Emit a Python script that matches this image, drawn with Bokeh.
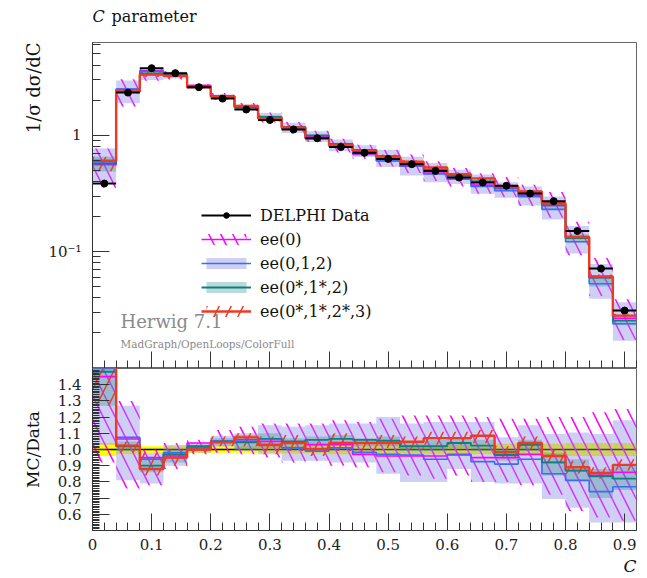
import numpy as np
from bokeh.plotting import figure
from bokeh.layouts import column
from bokeh.models import (Range1d, FixedTicker, Label, Legend, LegendItem,
                          ColumnDataSource, Title)
from bokeh.embed import file_html
from bokeh.resources import INLINE

# ---------------- data ----------------
BIN_EDGES = [0.00, 0.04, 0.08, 0.12, 0.16, 0.20, 0.24, 0.28, 0.32, 0.36, 0.40, 0.44,
             0.48, 0.52, 0.56, 0.60, 0.64, 0.68, 0.72, 0.76, 0.80, 0.84, 0.88, 0.92]

DELPHI = [0.384, 2.32, 3.76, 3.41, 2.58, 2.06, 1.66, 1.35, 1.12, 0.94, 0.79, 0.705,
          0.625, 0.563, 0.493, 0.432, 0.392, 0.367, 0.315, 0.271, 0.150, 0.0714, 0.0311]
DELPHI_RELERR = [0.04, 0.03, 0.02, 0.02, 0.02, 0.02, 0.02, 0.02, 0.025, 0.025, 0.03, 0.03,
                 0.03, 0.03, 0.03, 0.03, 0.03, 0.035, 0.035, 0.035, 0.04, 0.04, 0.04]

# MC / Data ratios (central, band low, band high)
EE0_R = [1.45, 1.065, 0.95, 0.96, 1.04, 1.05, 1.06, 1.05, 1.04, 1.03, 1.03, 0.97,
         0.96, 0.96, 0.96, 0.97, 0.95, 0.95, 0.97, 0.92, 0.87, 0.84, 0.86]
EE0_LO = [0.92, 0.76, 0.78, 0.88, 0.97, 0.98, 0.97, 0.95, 0.92, 0.93, 0.90, 0.89,
          0.86, 0.84, 0.82, 0.84, 0.80, 0.80, 0.78, 0.72, 0.62, 0.58, 0.56]
EE0_HI = [2.00, 1.30, 1.00, 1.04, 1.06, 1.12, 1.14, 1.16, 1.16, 1.16, 1.18, 1.17,
          1.19, 1.21, 1.21, 1.21, 1.20, 1.19, 1.19, 1.20, 1.20, 1.23, 1.25]

EE012_R = [1.50, 1.075, 0.94, 0.98, 1.01, 1.05, 1.05, 1.03, 1.01, 0.99, 1.01, 0.983,
           0.97, 0.966, 0.94, 0.966, 0.925, 0.91, 0.94, 0.85, 0.81, 0.74, 0.77]
EE012_LO = [1.03, 0.81, 0.79, 0.90, 0.98, 1.02, 0.99, 0.97, 0.93, 0.93, 0.92, 0.92,
            0.85, 0.80, 0.80, 0.88, 0.80, 0.79, 0.79, 0.695, 0.64, 0.55, 0.55]
EE012_HI = [2.00, 1.27, 0.98, 1.03, 1.04, 1.085, 1.10, 1.15, 1.14, 1.15, 1.16, 1.16,
            1.20, 1.16, 1.17, 1.17, 1.17, 1.075, 1.15, 1.095, 1.105, 1.095, 1.18]

EE012S_R = [1.48, 1.02, 0.90, 0.97, 1.02, 1.05, 1.044, 1.065, 1.05, 1.06, 1.065, 1.06,
            1.054, 1.02, 1.02, 1.04, 1.024, 0.966, 1.028, 0.92, 0.87, 0.835, 0.82]
EE012S_LO = [1.27, 0.99, 0.86, 0.92, 0.99, 1.02, 1.00, 1.01, 1.00, 1.02, 1.03, 1.02,
             1.02, 0.99, 0.99, 1.01, 0.99, 0.93, 0.99, 0.84, 0.80, 0.70, 0.75]
EE012S_HI = [1.70, 1.05, 0.95, 1.00, 1.03, 1.07, 1.09, 1.10, 1.07, 1.08, 1.09, 1.07,
             1.08, 1.05, 1.06, 1.07, 1.06, 1.00, 1.06, 0.98, 0.94, 0.88, 0.90]

EE0123S_R = [1.57, 1.024, 0.88, 0.95, 1.00, 1.044, 1.075, 1.028, 1.04, 1.003, 1.04, 1.04,
             1.04, 1.048, 1.07, 1.07, 1.085, 0.983, 1.04, 0.96, 0.89, 0.855, 0.905]
EE0123S_LO = [1.27, 0.98, 0.84, 0.90, 0.98, 1.02, 1.02, 0.97, 0.99, 0.96, 0.99, 0.98,
              1.01, 1.00, 1.03, 1.03, 1.04, 0.95, 1.00, 0.92, 0.85, 0.82, 0.87]
EE0123S_HI = [1.70, 1.05, 0.98, 1.00, 1.03, 1.08, 1.10, 1.08, 1.09, 1.05, 1.10, 1.06,
              1.09, 1.08, 1.11, 1.11, 1.12, 1.02, 1.08, 1.00, 0.93, 0.89, 0.94]

SERIES_NAMES = ["DELPHI Data", "ee(0)", "ee(0,1,2)", "ee(0*,1*,2)", "ee(0*,1*,2*,3)"]

X_TICKS = [0.0, 0.1, 0.2, 0.3, 0.4, 0.5, 0.6, 0.7, 0.8, 0.9]
X_TICK_LABELS = ["0", "0.1", "0.2", "0.3", "0.4", "0.5", "0.6", "0.7", "0.8", "0.9"]
Y_TICKS_MAIN = [0.1, 1.0]
Y_TICK_LABELS_MAIN = ["10\u207b\u00b9", "1"]
R_TICKS = [0.6, 0.7, 0.8, 0.9, 1.0, 1.1, 1.2, 1.3, 1.4]
R_TICK_LABELS = ["0.6", "0.7", "0.8", "0.9", "1.0", "1.1", "1.2", "1.3", "1.4"]

# ---------------- styling ----------------
FONT = "DejaVu Serif"
C_MAG = "#ff00ff"
C_BLUE = "#3a6cf4"
C_LAV = "#8c8ce6"
C_TEAL = "#0f7f7f"
C_TEALB = "#2f8f8f"
C_RED = "#ee3a22"
W = 641

edges = np.array(BIN_EDGES)
left, right = edges[:-1], edges[1:]
center = 0.5 * (left + right)
data = np.array(DELPHI)
derr = data * np.array(DELPHI_RELERR)

xr = Range1d(0.0, 0.92)

series = [
    ("ee0", EE0_R, EE0_LO, EE0_HI),
    ("ee012", EE012_R, EE012_LO, EE012_HI),
    ("ee012s", EE012S_R, EE012S_LO, EE012S_HI),
    ("ee0123s", EE0123S_R, EE0123S_LO, EE0123S_HI),
]


def style_axes(fig):
    fig.grid.visible = False
    fig.outline_line_color = "#666666"
    for ax in [fig.xaxis[0], fig.yaxis[0]]:
        ax.axis_line_color = "#333333"
        ax.major_tick_line_color = "#333333"
        ax.minor_tick_line_color = "#333333"
        ax.major_tick_out = 0
        ax.minor_tick_out = 0
        ax.major_tick_in = 17
        ax.minor_tick_in = 8
        ax.major_label_text_font = FONT
        ax.major_label_text_font_size = "15px"
        ax.major_label_text_color = "#222222"


def draw_bands(fig, factor):
    rend = {}
    for key, r, lo, hi in series:
        lo_v = np.array(lo) * factor
        hi_v = np.array(hi) * factor
        src = ColumnDataSource(dict(left=left, right=right, bottom=lo_v, top=hi_v))
        if key == "ee0":
            g = fig.quad(left="left", right="right", bottom="bottom", top="top", source=src,
                         fill_color=None, line_color=None, hatch_pattern="\\",
                         hatch_color=C_MAG, hatch_weight=1.5, hatch_scale=24)
        elif key == "ee012":
            g = fig.quad(left="left", right="right", bottom="bottom", top="top", source=src,
                         fill_color=C_LAV, fill_alpha=0.42, line_color=None)
        elif key == "ee012s":
            g = fig.quad(left="left", right="right", bottom="bottom", top="top", source=src,
                         fill_color=C_TEALB, fill_alpha=0.33, line_color=None)
        else:
            g = fig.quad(left="left", right="right", bottom="bottom", top="top", source=src,
                         fill_color=None, line_color=None, hatch_pattern="/",
                         hatch_color=C_RED, hatch_weight=1.5, hatch_scale=24)
        rend[key] = g
    return rend


def draw_lines(fig, factor):
    rend = {}
    styles = {"ee0": (C_MAG, 1.6), "ee012": (C_BLUE, 1.6),
              "ee012s": (C_TEAL, 1.8), "ee0123s": (C_RED, 2.4)}
    for key, r, lo, hi in series:
        v = np.array(r) * factor
        yy = np.append(v, v[-1])
        col, w = styles[key]
        rend[key] = fig.step(x=edges, y=yy, mode="after", line_color=col, line_width=w)
    return rend


# ---------------- header (title) ----------------
h = figure(width=W, height=42, min_border_left=92, min_border_right=5,
           min_border_top=0, min_border_bottom=0, x_range=Range1d(0, 1),
           y_range=Range1d(0, 1), x_axis_location=None, y_axis_location=None,
           output_backend="svg", toolbar_location=None)
h.grid.visible = False
h.outline_line_color = None
h.add_layout(Label(x=0, y=17, x_units="screen", y_units="screen", text="C",
                   text_font=FONT, text_font_style="italic",
                   text_font_size="16px", text_color="#111111"))
h.add_layout(Label(x=19, y=17, x_units="screen", y_units="screen", text="parameter",
                   text_font=FONT, text_font_size="16px", text_color="#111111"))

# ---------------- main panel ----------------
p = figure(width=W, height=326, min_border_left=92, min_border_right=5,
           min_border_top=0, min_border_bottom=0, x_range=xr,
           y_range=Range1d(0.00989, 6.25), y_axis_type="log",
           output_backend="svg", toolbar_location=None)
style_axes(p)
p.xaxis.ticker = FixedTicker(ticks=X_TICKS, minor_ticks=list(np.arange(0.0, 0.93, 0.02)))
p.xaxis.major_label_text_font_size = "0px"
p.xaxis.major_label_text_color = None
p.xaxis.major_label_standoff = 0
p.yaxis.ticker = FixedTicker(
    ticks=Y_TICKS_MAIN,
    minor_ticks=[m * d for d in [0.01, 0.1, 1.0] for m in range(2, 10)])
p.yaxis.major_label_overrides = {t: l for t, l in zip(Y_TICKS_MAIN, Y_TICK_LABELS_MAIN)}
p.yaxis.major_label_standoff = 11
p.add_layout(Title(text="1/\u03c3 d\u03c3/dC", align="right", text_font=FONT,
                   text_font_size="18px", text_font_style="normal",
                   text_color="#111111", standoff=4), "left")

bands_main = draw_bands(p, data)
lines_main = draw_lines(p, data)

dsrc = ColumnDataSource(dict(x=center, y=data, l=left, r=right,
                             lo=data - derr, hi=data + derr))
dbar = p.segment(x0="l", x1="r", y0="y", y1="y", source=dsrc, line_color="black", line_width=2)
p.segment(x0="x", x1="x", y0="lo", y1="hi", source=dsrc, line_color="black", line_width=2)
dpt = p.scatter(x="x", y="y", source=dsrc, size=7, color="black")

legend = Legend(items=[
    LegendItem(label=SERIES_NAMES[0], renderers=[dbar, dpt]),
    LegendItem(label=SERIES_NAMES[1], renderers=[bands_main["ee0"], lines_main["ee0"]]),
    LegendItem(label=SERIES_NAMES[2], renderers=[bands_main["ee012"], lines_main["ee012"]]),
    LegendItem(label=SERIES_NAMES[3], renderers=[bands_main["ee012s"], lines_main["ee012s"]]),
    LegendItem(label=SERIES_NAMES[4], renderers=[bands_main["ee0123s"], lines_main["ee0123s"]]),
], location=(109, 47), glyph_width=50, glyph_height=14, label_height=20, spacing=4,
    padding=0, margin=0, label_standoff=9, border_line_color=None,
    background_fill_alpha=0, label_text_font=FONT, label_text_font_size="16px",
    label_text_color="#111111")
p.add_layout(legend)

p.add_layout(Label(x=28, y=37, x_units="screen", y_units="screen", text="Herwig 7.1",
                   text_font=FONT, text_font_size="18px", text_color="#8a8a8a"))
p.add_layout(Label(x=28, y=19, x_units="screen", y_units="screen",
                   text="MadGraph/OpenLoops/ColorFull",
                   text_font=FONT, text_font_size="10.5px", text_color="#8a8a8a"))

# ---------------- ratio panel ----------------
q = figure(width=W, height=210, min_border_left=92, min_border_right=5,
           min_border_top=0, min_border_bottom=48, x_range=xr,
           y_range=Range1d(0.5, 1.5), output_backend="svg", toolbar_location=None)
style_axes(q)
q.xaxis.ticker = FixedTicker(ticks=X_TICKS, minor_ticks=list(np.arange(0.0, 0.93, 0.02)))
q.xaxis.major_label_overrides = {t: l for t, l in zip(X_TICKS, X_TICK_LABELS)}
q.xaxis.major_label_standoff = 8
q.yaxis.ticker = FixedTicker(ticks=R_TICKS, minor_ticks=list(np.arange(0.5, 1.505, 0.01)))
q.yaxis.major_label_overrides = {t: l for t, l in zip(R_TICKS, R_TICK_LABELS)}
q.yaxis.major_label_standoff = 11
q.yaxis.minor_tick_in = 7
q.yaxis.axis_label = "MC/Data"
q.yaxis.axis_label_text_font = FONT
q.yaxis.axis_label_text_font_size = "17px"
q.yaxis.axis_label_text_font_style = "normal"
q.yaxis.axis_label_text_color = "#111111"
q.yaxis.axis_label_standoff = 12
q.add_layout(Title(text="C", align="right", text_font=FONT, text_font_size="17px",
                   text_font_style="italic", text_color="#111111", standoff=2), "below")

ones = np.ones_like(data)
rel = np.array(DELPHI_RELERR)
q.quad(left=left, right=right, bottom=ones - rel, top=ones + rel,
       fill_color="#ffff00", line_color=None)
q.step(x=edges, y=np.append(ones, 1.0), mode="after", line_color="black", line_width=1.5)
draw_bands(q, ones)
draw_lines(q, ones)

layout = column(h, p, q, spacing=0)
open("out.html", "w").write(file_html(layout, INLINE))
